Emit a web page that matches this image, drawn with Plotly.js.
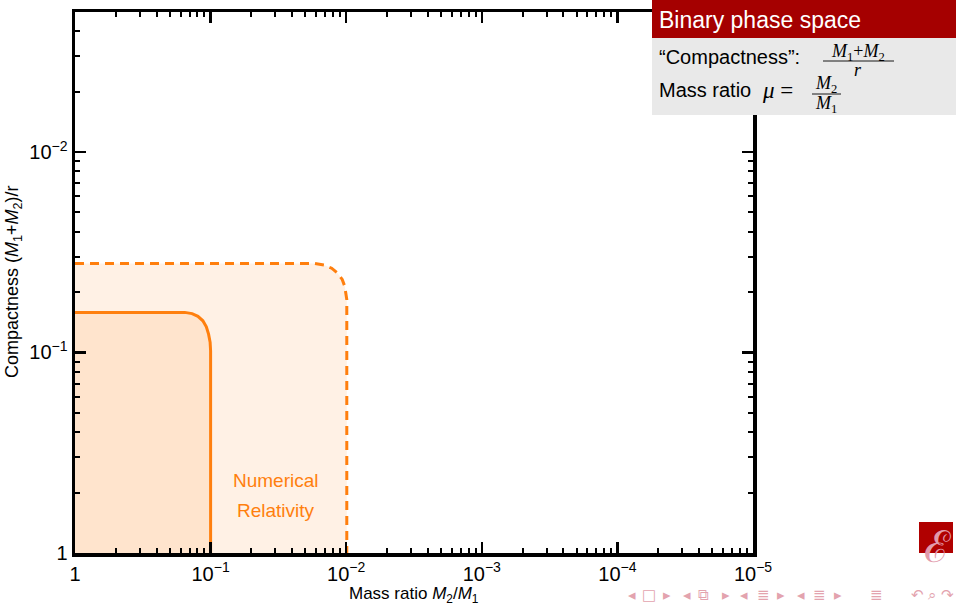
<!DOCTYPE html>
<html><head><meta charset="utf-8">
<script src="https://cdn.plot.ly/plotly-3.0.1.min.js"></script>
<style>html,body{margin:0;padding:0;background:#fff;}#chart{width:956px;height:607px;}</style>
</head><body><div id="chart"></div>
<script>
// ---------------- data ----------------
const massRatioTicks = [1, 1e-1, 1e-2, 1e-3, 1e-4, 1e-5];
const massRatioTickText = ['1', '10<sup>\u22121</sup>', '10<sup>\u22122</sup>', '10<sup>\u22123</sup>', '10<sup>\u22124</sup>', '10<sup>\u22125</sup>'];
const compactTicks = [1, 1e-1, 1e-2];
const compactTickText = ['1', '10<sup>\u22121</sup>', '10<sup>\u22122</sup>'];
const xTitle = 'Mass ratio <i>M</i><sub>2</sub>/<i>M</i><sub>1</sub>';
const yTitle = 'Compactness (<i>M</i><sub>1</sub>+<i>M</i><sub>2</sub>)/r';

// Current numerical relativity region boundary (solid)
const nrMassRatio = [1, 0.155, 0.137, 0.124, 0.114, 0.1075, 0.1035, 0.1008, 0.1, 0.1];
const nrCompact   = [0.0631, 0.0631, 0.0640, 0.0660, 0.0695, 0.0745, 0.0810, 0.0890, 0.098, 1];
// Extended numerical relativity region boundary (dashed)
const nrExtMassRatio = [1, 0.0170, 0.0146, 0.0128, 0.0116, 0.0107, 0.01025, 0.0100, 0.0099, 0.0099];
const nrExtCompact   = [0.036, 0.036, 0.0366, 0.0380, 0.0402, 0.0432, 0.0468, 0.0510, 0.0545, 1];
const regionLabel = ['Numerical', 'Relativity'];

const slideTitle = 'Binary phase space';
const navGlyphs = ['\u25C2','\u25A1','\u25B8','\u25C2','\u29C9','\u25B8','\u25C2','\u2263','\u25B8','\u25C2','\u2263','\u25B8','\u2263','\u21B6','\u2315','\u21B7'];

// ---------------- helpers (layout) ----------------
const inv = a => a.map(v => 1 / v);   // axes run in 1/value on a log scale
const L = 75, T = 12, W = 678, H = 541;
const PX = px => (px - L) / W;
const PY = py => (T + H - py) / H;
const orange = '#ff7f0e';
const fillA = 'rgba(255,127,14,0.11)';

const traces = [
  {x: inv(nrExtMassRatio.concat([1])), y: inv(nrExtCompact.concat([1])), mode: 'lines', fill: 'toself',
   fillcolor: fillA, line: {width: 0}, hoverinfo: 'skip', showlegend: false},
  {x: inv(nrMassRatio.concat([1])), y: inv(nrCompact.concat([1])), mode: 'lines', fill: 'toself',
   fillcolor: fillA, line: {width: 0}, hoverinfo: 'skip', showlegend: false},
  {x: inv(nrExtMassRatio), y: inv(nrExtCompact), mode: 'lines', line: {color: orange, width: 3, dash: '9px,6px'},
   showlegend: false},
  {x: inv(nrMassRatio), y: inv(nrCompact), mode: 'lines', line: {color: orange, width: 3},
   showlegend: false}
];

const axisCommon = {
  type: 'log', tickmode: 'array', ticks: 'inside', ticklen: 11, tickwidth: 2.5, tickcolor: '#000',
  showline: true, linewidth: 3.5, linecolor: '#000', mirror: 'ticks', showgrid: false, zeroline: false,
  tickfont: {family: 'Liberation Sans, Arial, sans-serif', size: 20, color: '#000'},
  minor: {dtick: 'D1', ticks: 'inside', ticklen: 5, tickwidth: 2, tickcolor: '#000', showgrid: false}
};

const sans = 'Liberation Sans, Arial, sans-serif';
const serif = 'Liberation Serif, Times New Roman, serif';
const ann = (px, py, text, opts) => Object.assign({xref: 'paper', yref: 'paper', x: PX(px), y: PY(py), text: text,
  showarrow: false, xanchor: 'left', yanchor: 'middle', font: {family: sans, size: 20, color: '#000'}}, opts || {});

const annotations = [
  ann(414, 595, xTitle, {xanchor: 'center', font: {family: sans, size: 17, color: '#000'}}),
  ann(13, 282, yTitle, {xanchor: 'center', textangle: -90, font: {family: sans, size: 18, color: '#000'}}),
  ann(276, 480, regionLabel[0], {xanchor: 'center', font: {family: sans, size: 19, color: orange}}),
  ann(276, 510, regionLabel[1], {xanchor: 'center', font: {family: sans, size: 19, color: orange}}),
  ann(657, 20, slideTitle, {font: {family: sans, size: 23, color: '#fff'}}),
  ann(657, 57, '\u201CCompactness\u201D:', {}),
  ann(858, 52, '<i>M</i><sub>1</sub>+<i>M</i><sub>2</sub>', {xanchor: 'center', font: {family: serif, size: 18, color: '#000'}}),
  ann(858, 70, '<i>r</i>', {xanchor: 'center', font: {family: serif, size: 18, color: '#000'}}),
  ann(657, 90, 'Mass ratio', {}),
  ann(760, 90, '<i>\u03BC</i> =', {font: {family: serif, size: 23, color: '#000'}}),
  ann(826, 84, '<i>M</i><sub>2</sub>', {xanchor: 'center', font: {family: serif, size: 18, color: '#000'}}),
  ann(826, 104, '<i>M</i><sub>1</sub>', {xanchor: 'center', font: {family: serif, size: 18, color: '#000'}}),
  ann(937, 546, '\u2130', {xanchor: 'center', font: {family: 'DejaVu Serif, serif', size: 44, color: '#e29aab'}})
];
const navX = [632, 649, 667, 687, 703, 726, 744, 763, 781, 801, 819, 838, 877, 917, 932, 948];
navGlyphs.forEach((g, i) => annotations.push(ann(navX[i], 595, g, {xanchor: 'center',
  font: {family: 'DejaVu Sans, sans-serif', size: 15, color: '#e3a3ae'}})));

const shapes = [
  {type: 'rect', xref: 'paper', yref: 'paper', x0: PX(652), x1: PX(960), y0: PY(38), y1: PY(0), fillcolor: '#a50000', line: {width: 0}, layer: 'above'},
  {type: 'rect', xref: 'paper', yref: 'paper', x0: PX(652), x1: PX(960), y0: PY(115), y1: PY(38), fillcolor: '#e9e9e9', line: {width: 0}, layer: 'above'},
  {type: 'line', xref: 'paper', yref: 'paper', x0: PX(823), x1: PX(894), y0: PY(61), y1: PY(61), line: {color: '#000', width: 0.9}, layer: 'above'},
  {type: 'line', xref: 'paper', yref: 'paper', x0: PX(812), x1: PX(841), y0: PY(94), y1: PY(94), line: {color: '#000', width: 0.9}, layer: 'above'},
  {type: 'rect', xref: 'paper', yref: 'paper', x0: PX(919), x1: PX(953), y0: PY(553), y1: PY(522), fillcolor: '#b00000', line: {width: 0}, layer: 'below'}
];

const layout = {
  width: 956, height: 607,
  margin: {l: L, r: 956 - L - W, t: T, b: 607 - T - H},
  paper_bgcolor: '#fff', plot_bgcolor: '#fff',
  font: {family: sans, color: '#000'},
  showlegend: false,
  xaxis: Object.assign({}, axisCommon, {range: [0, 5], tickvals: inv(massRatioTicks), ticktext: massRatioTickText}),
  yaxis: Object.assign({}, axisCommon, {range: [0, 2.698], tickvals: inv(compactTicks), ticktext: compactTickText}),
  shapes: shapes,
  annotations: annotations
};

Plotly.newPlot('chart', traces, layout, {staticPlot: true, displayModeBar: false});
</script></body></html>
